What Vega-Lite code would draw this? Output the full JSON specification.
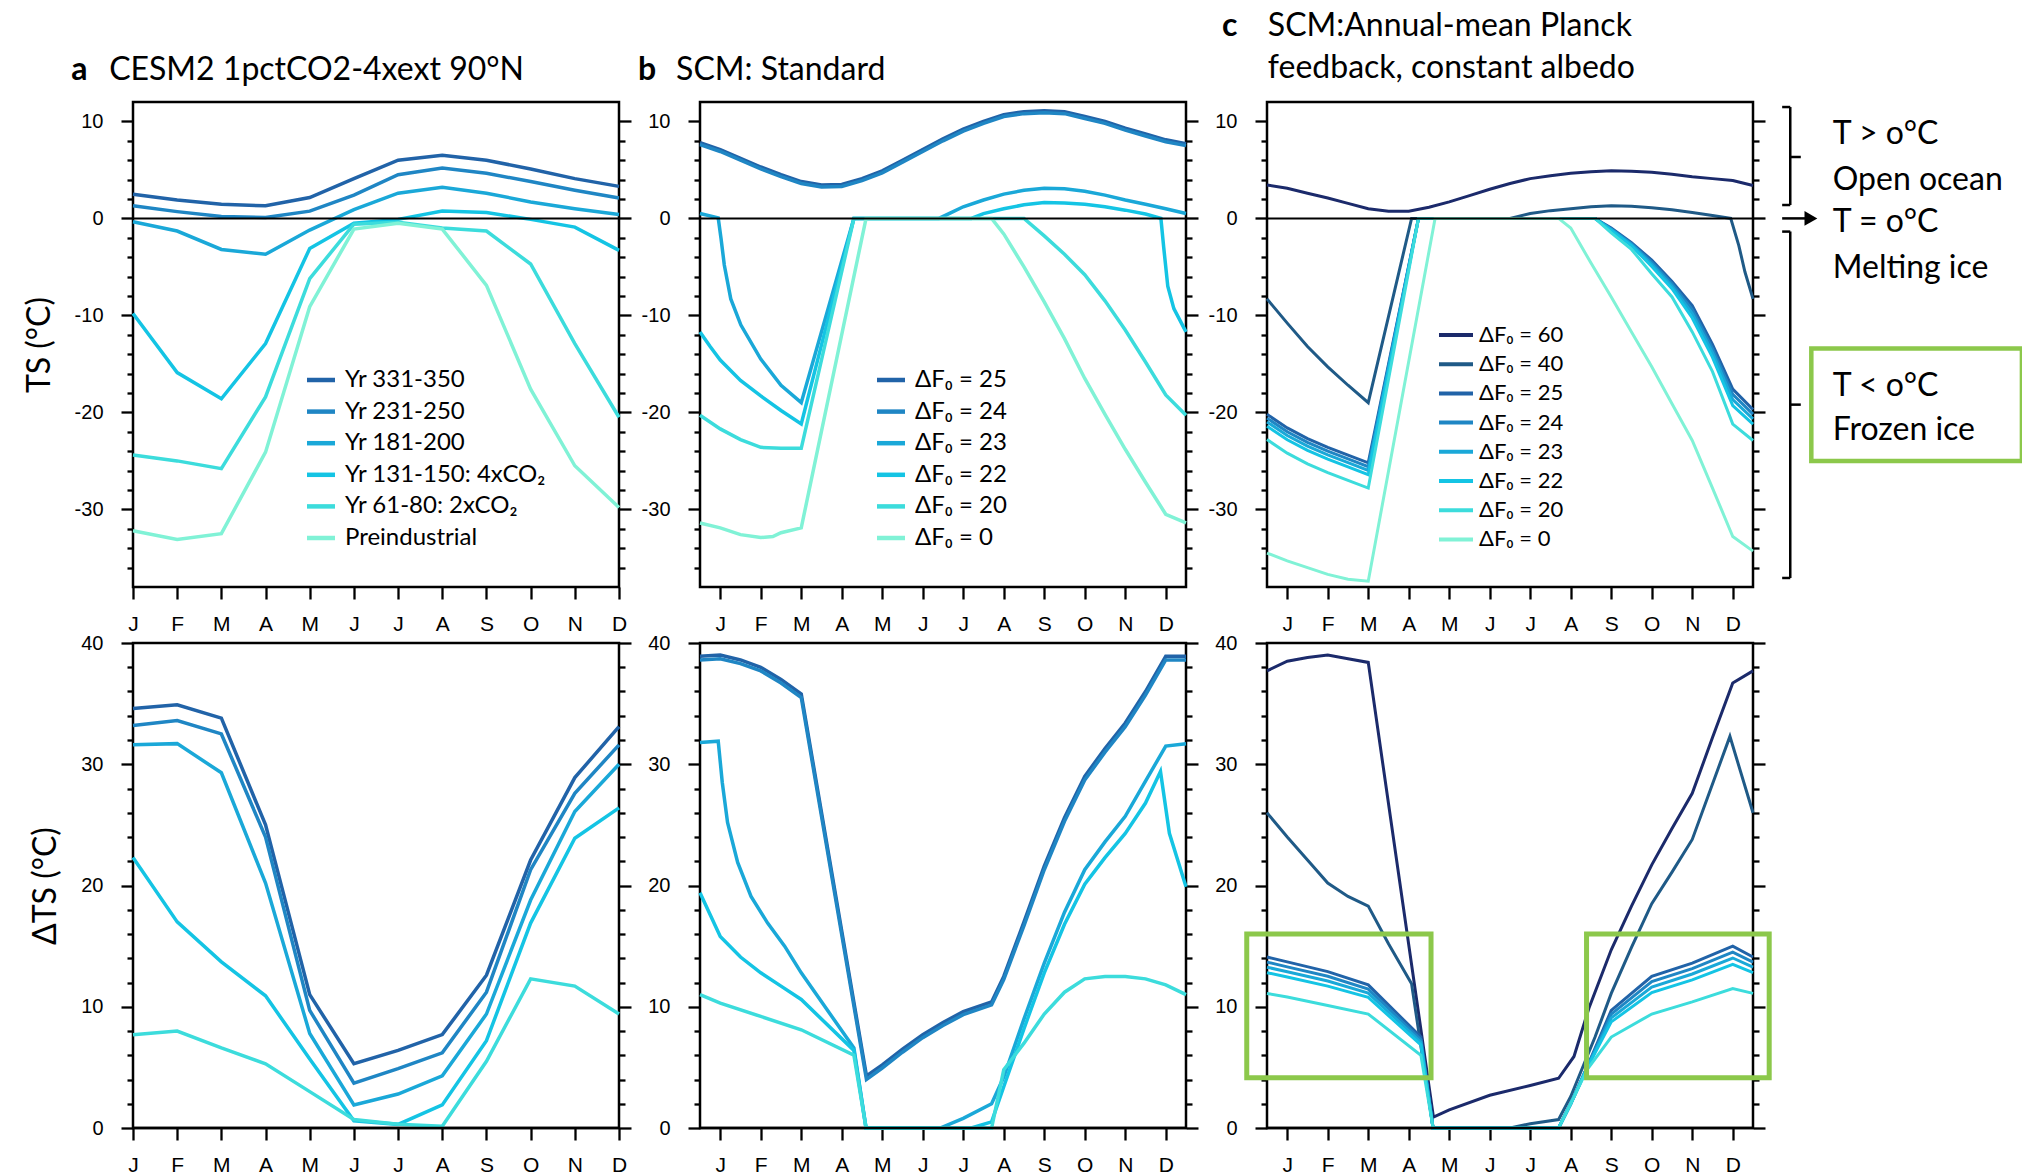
{
"$schema":"https://vega.github.io/schema/vega-lite/v6.json",
"background":"white",
"padding":{"left":21,"top":9,"right":4,"bottom":4},
"config":{
"view":{"stroke":"black","strokeWidth":2.5},
"axis":{"domain":false,"grid":false,"tickColor":"black","tickWidth":2.3,"labelFont":"Liberation Sans","labelFontSize":20,"labelColor":"black","titleFont":"Lato","titleFontSize":32,"titleFontWeight":"normal","titleColor":"black","labelOverlap":false,"labelBound":false,"labelFlush":false},
"legend":{"orient":"none","padding":0,"labelFont":"Lato","labelFontSize":24,"labelColor":"black","labelLimit":0,"symbolType":"M-2,0L2,0","symbolSize":196,"symbolStrokeWidth":4.5,"labelOffset":12,"rowPadding":7.6,"title":null}
},
"resolve":{"scale":{"color":"independent"},"legend":{"color":"independent"}},
"datasets":{
"aTop":[
{"s":"Yr 331-350","m":1,"v":2.5},{"s":"Yr 331-350","m":2,"v":1.9},{"s":"Yr 331-350","m":3,"v":1.45},{"s":"Yr 331-350","m":4,"v":1.3},{"s":"Yr 331-350","m":5,"v":2.15},{"s":"Yr 331-350","m":6,"v":4.1},{"s":"Yr 331-350","m":7,"v":6.0},{"s":"Yr 331-350","m":8,"v":6.5},{"s":"Yr 331-350","m":9,"v":6.0},{"s":"Yr 331-350","m":10,"v":5.1},{"s":"Yr 331-350","m":11,"v":4.1},{"s":"Yr 331-350","m":12,"v":3.3},
{"s":"Yr 231-250","m":1,"v":1.3},{"s":"Yr 231-250","m":2,"v":0.7},{"s":"Yr 231-250","m":3,"v":0.2},{"s":"Yr 231-250","m":4,"v":0.1},{"s":"Yr 231-250","m":5,"v":0.75},{"s":"Yr 231-250","m":6,"v":2.4},{"s":"Yr 231-250","m":7,"v":4.5},{"s":"Yr 231-250","m":8,"v":5.2},{"s":"Yr 231-250","m":9,"v":4.65},{"s":"Yr 231-250","m":10,"v":3.8},{"s":"Yr 231-250","m":11,"v":2.9},{"s":"Yr 231-250","m":12,"v":2.1},
{"s":"Yr 181-200","m":1,"v":-0.35},{"s":"Yr 181-200","m":2,"v":-1.3},{"s":"Yr 181-200","m":3,"v":-3.2},{"s":"Yr 181-200","m":4,"v":-3.7},{"s":"Yr 181-200","m":5,"v":-1.2},{"s":"Yr 181-200","m":6,"v":0.9},{"s":"Yr 181-200","m":7,"v":2.6},{"s":"Yr 181-200","m":8,"v":3.2},{"s":"Yr 181-200","m":9,"v":2.6},{"s":"Yr 181-200","m":10,"v":1.7},{"s":"Yr 181-200","m":11,"v":1.0},{"s":"Yr 181-200","m":12,"v":0.4},
{"s":"Yr 131-150: 4xCO₂","m":1,"v":-9.8},{"s":"Yr 131-150: 4xCO₂","m":2,"v":-15.9},{"s":"Yr 131-150: 4xCO₂","m":3,"v":-18.6},{"s":"Yr 131-150: 4xCO₂","m":4,"v":-12.9},{"s":"Yr 131-150: 4xCO₂","m":5,"v":-3.1},{"s":"Yr 131-150: 4xCO₂","m":6,"v":-0.5},{"s":"Yr 131-150: 4xCO₂","m":7,"v":-0.1},{"s":"Yr 131-150: 4xCO₂","m":8,"v":0.75},{"s":"Yr 131-150: 4xCO₂","m":9,"v":0.6},{"s":"Yr 131-150: 4xCO₂","m":10,"v":-0.1},{"s":"Yr 131-150: 4xCO₂","m":11,"v":-0.9},{"s":"Yr 131-150: 4xCO₂","m":12,"v":-3.3},
{"s":"Yr 61-80: 2xCO₂","m":1,"v":-24.4},{"s":"Yr 61-80: 2xCO₂","m":2,"v":-25.0},{"s":"Yr 61-80: 2xCO₂","m":3,"v":-25.8},{"s":"Yr 61-80: 2xCO₂","m":4,"v":-18.4},{"s":"Yr 61-80: 2xCO₂","m":5,"v":-6.2},{"s":"Yr 61-80: 2xCO₂","m":6,"v":-0.6},{"s":"Yr 61-80: 2xCO₂","m":7,"v":-0.4},{"s":"Yr 61-80: 2xCO₂","m":8,"v":-1.0},{"s":"Yr 61-80: 2xCO₂","m":9,"v":-1.3},{"s":"Yr 61-80: 2xCO₂","m":10,"v":-4.7},{"s":"Yr 61-80: 2xCO₂","m":11,"v":-12.9},{"s":"Yr 61-80: 2xCO₂","m":12,"v":-20.5},
{"s":"Preindustrial","m":1,"v":-32.2},{"s":"Preindustrial","m":2,"v":-33.1},{"s":"Preindustrial","m":3,"v":-32.5},{"s":"Preindustrial","m":4,"v":-24.1},{"s":"Preindustrial","m":5,"v":-9.1},{"s":"Preindustrial","m":6,"v":-1.1},{"s":"Preindustrial","m":7,"v":-0.5},{"s":"Preindustrial","m":8,"v":-1.1},{"s":"Preindustrial","m":9,"v":-6.9},{"s":"Preindustrial","m":10,"v":-17.6},{"s":"Preindustrial","m":11,"v":-25.5},{"s":"Preindustrial","m":12,"v":-29.8}
],
"aBot":[
{"s":"Yr 331-350","m":1,"v":34.6},{"s":"Yr 331-350","m":2,"v":34.9},{"s":"Yr 331-350","m":3,"v":33.8},{"s":"Yr 331-350","m":4,"v":25.0},{"s":"Yr 331-350","m":5,"v":11.0},{"s":"Yr 331-350","m":6,"v":5.3},{"s":"Yr 331-350","m":7,"v":6.4},{"s":"Yr 331-350","m":8,"v":7.7},{"s":"Yr 331-350","m":9,"v":12.6},{"s":"Yr 331-350","m":10,"v":22.1},{"s":"Yr 331-350","m":11,"v":28.9},{"s":"Yr 331-350","m":12,"v":33.1},
{"s":"Yr 231-250","m":1,"v":33.2},{"s":"Yr 231-250","m":2,"v":33.6},{"s":"Yr 231-250","m":3,"v":32.5},{"s":"Yr 231-250","m":4,"v":24.0},{"s":"Yr 231-250","m":5,"v":9.7},{"s":"Yr 231-250","m":6,"v":3.7},{"s":"Yr 231-250","m":7,"v":4.9},{"s":"Yr 231-250","m":8,"v":6.2},{"s":"Yr 231-250","m":9,"v":11.2},{"s":"Yr 231-250","m":10,"v":21.3},{"s":"Yr 231-250","m":11,"v":27.6},{"s":"Yr 231-250","m":12,"v":31.6},
{"s":"Yr 181-200","m":1,"v":31.6},{"s":"Yr 181-200","m":2,"v":31.7},{"s":"Yr 181-200","m":3,"v":29.3},{"s":"Yr 181-200","m":4,"v":20.2},{"s":"Yr 181-200","m":5,"v":7.8},{"s":"Yr 181-200","m":6,"v":1.9},{"s":"Yr 181-200","m":7,"v":2.8},{"s":"Yr 181-200","m":8,"v":4.3},{"s":"Yr 181-200","m":9,"v":9.4},{"s":"Yr 181-200","m":10,"v":18.8},{"s":"Yr 181-200","m":11,"v":26.1},{"s":"Yr 181-200","m":12,"v":30.0},
{"s":"Yr 131-150: 4xCO₂","m":1,"v":22.3},{"s":"Yr 131-150: 4xCO₂","m":2,"v":17.0},{"s":"Yr 131-150: 4xCO₂","m":3,"v":13.7},{"s":"Yr 131-150: 4xCO₂","m":4,"v":10.9},{"s":"Yr 131-150: 4xCO₂","m":5,"v":5.7},{"s":"Yr 131-150: 4xCO₂","m":6,"v":0.6},{"s":"Yr 131-150: 4xCO₂","m":7,"v":0.3},{"s":"Yr 131-150: 4xCO₂","m":8,"v":1.9},{"s":"Yr 131-150: 4xCO₂","m":9,"v":7.2},{"s":"Yr 131-150: 4xCO₂","m":10,"v":16.9},{"s":"Yr 131-150: 4xCO₂","m":11,"v":23.9},{"s":"Yr 131-150: 4xCO₂","m":12,"v":26.4},
{"s":"Yr 61-80: 2xCO₂","m":1,"v":7.7},{"s":"Yr 61-80: 2xCO₂","m":2,"v":8.0},{"s":"Yr 61-80: 2xCO₂","m":3,"v":6.6},{"s":"Yr 61-80: 2xCO₂","m":4,"v":5.3},{"s":"Yr 61-80: 2xCO₂","m":5,"v":3.0},{"s":"Yr 61-80: 2xCO₂","m":6,"v":0.7},{"s":"Yr 61-80: 2xCO₂","m":7,"v":0.3},{"s":"Yr 61-80: 2xCO₂","m":8,"v":0.15},{"s":"Yr 61-80: 2xCO₂","m":9,"v":5.5},{"s":"Yr 61-80: 2xCO₂","m":10,"v":12.3},{"s":"Yr 61-80: 2xCO₂","m":11,"v":11.7},{"s":"Yr 61-80: 2xCO₂","m":12,"v":9.4}
],
"bTop":[
{"f":25,"m":0.5,"v":7.8},{"f":25,"m":1,"v":7.1},{"f":25,"m":1.5,"v":6.2},{"f":25,"m":2,"v":5.3},{"f":25,"m":2.5,"v":4.5},{"f":25,"m":3,"v":3.8},{"f":25,"m":3.5,"v":3.45},{"f":25,"m":4,"v":3.5},{"f":25,"m":4.5,"v":4.1},{"f":25,"m":5,"v":4.9},{"f":25,"m":5.5,"v":6.0},{"f":25,"m":6,"v":7.1},{"f":25,"m":6.5,"v":8.2},{"f":25,"m":7,"v":9.2},{"f":25,"m":7.5,"v":10.0},{"f":25,"m":8,"v":10.7},{"f":25,"m":8.5,"v":11.0},{"f":25,"m":9,"v":11.1},{"f":25,"m":9.5,"v":11.0},{"f":25,"m":10,"v":10.5},{"f":25,"m":10.5,"v":10.0},{"f":25,"m":11,"v":9.3},{"f":25,"m":11.5,"v":8.7},{"f":25,"m":12,"v":8.1},{"f":25,"m":12.5,"v":7.7},
{"f":24,"m":0.5,"v":7.6},{"f":24,"m":1,"v":6.9},{"f":24,"m":1.5,"v":6.0},{"f":24,"m":2,"v":5.1},{"f":24,"m":2.5,"v":4.3},{"f":24,"m":3,"v":3.6},{"f":24,"m":3.5,"v":3.25},{"f":24,"m":4,"v":3.3},{"f":24,"m":4.5,"v":3.9},{"f":24,"m":5,"v":4.7},{"f":24,"m":5.5,"v":5.8},{"f":24,"m":6,"v":6.9},{"f":24,"m":6.5,"v":8.0},{"f":24,"m":7,"v":9.0},{"f":24,"m":7.5,"v":9.8},{"f":24,"m":8,"v":10.5},{"f":24,"m":8.5,"v":10.8},{"f":24,"m":9,"v":10.9},{"f":24,"m":9.5,"v":10.8},{"f":24,"m":10,"v":10.3},{"f":24,"m":10.5,"v":9.8},{"f":24,"m":11,"v":9.1},{"f":24,"m":11.5,"v":8.5},{"f":24,"m":12,"v":7.9},{"f":24,"m":12.5,"v":7.5},
{"f":23,"m":0.5,"v":0.5},{"f":23,"m":0.95,"v":0.05},{"f":23,"m":1.02,"v":-2.1},{"f":23,"m":1.1,"v":-4.8},{"f":23,"m":1.26,"v":-8.3},{"f":23,"m":1.51,"v":-11.0},{"f":23,"m":2,"v":-14.5},{"f":23,"m":2.5,"v":-17.2},{"f":23,"m":3,"v":-19.0},{"f":23,"m":4.3,"v":0},{"f":23,"m":6.4,"v":0},{"f":23,"m":6.7,"v":0.6},{"f":23,"m":7,"v":1.2},{"f":23,"m":7.5,"v":1.9},{"f":23,"m":8,"v":2.5},{"f":23,"m":8.5,"v":2.9},{"f":23,"m":9,"v":3.1},{"f":23,"m":9.5,"v":3.05},{"f":23,"m":10,"v":2.8},{"f":23,"m":10.5,"v":2.4},{"f":23,"m":11,"v":1.9},{"f":23,"m":11.5,"v":1.45},{"f":23,"m":12,"v":1.0},{"f":23,"m":12.5,"v":0.5},
{"f":22,"m":0.5,"v":-11.7},{"f":22,"m":0.75,"v":-13.2},{"f":22,"m":1,"v":-14.6},{"f":22,"m":1.5,"v":-16.7},{"f":22,"m":2,"v":-18.3},{"f":22,"m":2.5,"v":-19.8},{"f":22,"m":3,"v":-21.2},{"f":22,"m":4.3,"v":0},{"f":22,"m":7.2,"v":0},{"f":22,"m":7.5,"v":0.5},{"f":22,"m":8,"v":1.0},{"f":22,"m":8.5,"v":1.4},{"f":22,"m":9,"v":1.65},{"f":22,"m":9.5,"v":1.6},{"f":22,"m":10,"v":1.45},{"f":22,"m":10.5,"v":1.2},{"f":22,"m":11,"v":0.85},{"f":22,"m":11.5,"v":0.45},{"f":22,"m":11.88,"v":0},{"f":22,"m":11.95,"v":-3.0},{"f":22,"m":12.05,"v":-7.0},{"f":22,"m":12.2,"v":-9.3},{"f":22,"m":12.5,"v":-11.7},
{"f":20,"m":0.5,"v":-20.3},{"f":20,"m":1,"v":-21.7},{"f":20,"m":1.5,"v":-22.8},{"f":20,"m":2,"v":-23.6},{"f":20,"m":2.5,"v":-23.7},{"f":20,"m":3,"v":-23.7},{"f":20,"m":4.3,"v":0},{"f":20,"m":8.5,"v":0},{"f":20,"m":9,"v":-1.8},{"f":20,"m":9.5,"v":-3.7},{"f":20,"m":10,"v":-5.8},{"f":20,"m":10.5,"v":-8.5},{"f":20,"m":11,"v":-11.5},{"f":20,"m":11.5,"v":-14.8},{"f":20,"m":12,"v":-18.2},{"f":20,"m":12.5,"v":-20.3},
{"f":0,"m":0.5,"v":-31.4},{"f":0,"m":1,"v":-31.9},{"f":0,"m":1.5,"v":-32.6},{"f":0,"m":2,"v":-32.9},{"f":0,"m":2.3,"v":-32.8},{"f":0,"m":2.5,"v":-32.4},{"f":0,"m":3,"v":-31.9},{"f":0,"m":4.6,"v":0},{"f":0,"m":7.7,"v":0},{"f":0,"m":8,"v":-1.6},{"f":0,"m":8.5,"v":-5.0},{"f":0,"m":9,"v":-8.6},{"f":0,"m":9.5,"v":-12.4},{"f":0,"m":10,"v":-16.5},{"f":0,"m":10.5,"v":-20.2},{"f":0,"m":11,"v":-23.8},{"f":0,"m":11.5,"v":-27.2},{"f":0,"m":12,"v":-30.5},{"f":0,"m":12.5,"v":-31.4}
],
"bBot":[
{"f":25,"m":0.5,"v":38.9},{"f":25,"m":1,"v":39.0},{"f":25,"m":1.5,"v":38.6},{"f":25,"m":2,"v":38.0},{"f":25,"m":2.5,"v":37.0},{"f":25,"m":3,"v":35.8},{"f":25,"m":4.61,"v":4.3},{"f":25,"m":5,"v":5.2},{"f":25,"m":5.5,"v":6.5},{"f":25,"m":6,"v":7.7},{"f":25,"m":6.5,"v":8.7},{"f":25,"m":7,"v":9.6},{"f":25,"m":7.7,"v":10.4},{"f":25,"m":8,"v":12.5},{"f":25,"m":8.5,"v":17.0},{"f":25,"m":9,"v":21.6},{"f":25,"m":9.5,"v":25.6},{"f":25,"m":10,"v":29.0},{"f":25,"m":10.5,"v":31.3},{"f":25,"m":11,"v":33.4},{"f":25,"m":11.5,"v":36.0},{"f":25,"m":12,"v":38.9},{"f":25,"m":12.5,"v":38.9},
{"f":24,"m":0.5,"v":38.6},{"f":24,"m":1,"v":38.7},{"f":24,"m":1.5,"v":38.3},{"f":24,"m":2,"v":37.7},{"f":24,"m":2.5,"v":36.7},{"f":24,"m":3,"v":35.5},{"f":24,"m":4.61,"v":4.0},{"f":24,"m":5,"v":4.95},{"f":24,"m":5.5,"v":6.25},{"f":24,"m":6,"v":7.45},{"f":24,"m":6.5,"v":8.45},{"f":24,"m":7,"v":9.35},{"f":24,"m":7.7,"v":10.15},{"f":24,"m":8,"v":12.25},{"f":24,"m":8.5,"v":16.7},{"f":24,"m":9,"v":21.3},{"f":24,"m":9.5,"v":25.3},{"f":24,"m":10,"v":28.7},{"f":24,"m":10.5,"v":31.0},{"f":24,"m":11,"v":33.1},{"f":24,"m":11.5,"v":35.7},{"f":24,"m":12,"v":38.6},{"f":24,"m":12.5,"v":38.6},
{"f":23,"m":0.5,"v":31.8},{"f":23,"m":0.95,"v":31.9},{"f":23,"m":1.05,"v":28.5},{"f":23,"m":1.18,"v":25.2},{"f":23,"m":1.43,"v":21.9},{"f":23,"m":1.76,"v":19.1},{"f":23,"m":2.17,"v":16.9},{"f":23,"m":2.59,"v":15.0},{"f":23,"m":3,"v":12.8},{"f":23,"m":4.3,"v":6.6},{"f":23,"m":4.6,"v":0},{"f":23,"m":6.43,"v":0},{"f":23,"m":7,"v":0.8},{"f":23,"m":7.7,"v":2.0},{"f":23,"m":8,"v":4.2},{"f":23,"m":8.5,"v":9.0},{"f":23,"m":9,"v":13.6},{"f":23,"m":9.5,"v":17.8},{"f":23,"m":10,"v":21.3},{"f":23,"m":10.5,"v":23.6},{"f":23,"m":11,"v":25.7},{"f":23,"m":11.5,"v":28.6},{"f":23,"m":12,"v":31.5},{"f":23,"m":12.5,"v":31.7},
{"f":22,"m":0.5,"v":19.4},{"f":22,"m":1,"v":15.8},{"f":22,"m":1.5,"v":14.1},{"f":22,"m":2,"v":12.8},{"f":22,"m":2.5,"v":11.7},{"f":22,"m":3,"v":10.6},{"f":22,"m":4.3,"v":6.4},{"f":22,"m":4.6,"v":0},{"f":22,"m":7.2,"v":0},{"f":22,"m":7.7,"v":0.5},{"f":22,"m":8,"v":3.4},{"f":22,"m":8.5,"v":8.2},{"f":22,"m":9,"v":12.8},{"f":22,"m":9.5,"v":16.8},{"f":22,"m":10,"v":20.1},{"f":22,"m":10.5,"v":22.3},{"f":22,"m":11,"v":24.3},{"f":22,"m":11.5,"v":26.8},{"f":22,"m":11.87,"v":29.4},{"f":22,"m":12.09,"v":24.3},{"f":22,"m":12.5,"v":19.9},
{"f":20,"m":0.5,"v":11.0},{"f":20,"m":1,"v":10.3},{"f":20,"m":2,"v":9.2},{"f":20,"m":3,"v":8.1},{"f":20,"m":4.3,"v":6.0},{"f":20,"m":4.6,"v":0},{"f":20,"m":7.7,"v":0},{"f":20,"m":8,"v":4.8},{"f":20,"m":8.5,"v":7.0},{"f":20,"m":9,"v":9.4},{"f":20,"m":9.5,"v":11.2},{"f":20,"m":10,"v":12.3},{"f":20,"m":10.5,"v":12.5},{"f":20,"m":11,"v":12.5},{"f":20,"m":11.5,"v":12.3},{"f":20,"m":12,"v":11.8},{"f":20,"m":12.5,"v":11.0}
],
"cTop":[
{"f":60,"m":0.5,"v":3.45},{"f":60,"m":1,"v":3.1},{"f":60,"m":1.5,"v":2.6},{"f":60,"m":2,"v":2.1},{"f":60,"m":2.5,"v":1.55},{"f":60,"m":3,"v":1.0},{"f":60,"m":3.5,"v":0.75},{"f":60,"m":4,"v":0.75},{"f":60,"m":4.5,"v":1.15},{"f":60,"m":5,"v":1.7},{"f":60,"m":5.5,"v":2.35},{"f":60,"m":6,"v":3.0},{"f":60,"m":6.5,"v":3.6},{"f":60,"m":7,"v":4.1},{"f":60,"m":7.5,"v":4.4},{"f":60,"m":8,"v":4.65},{"f":60,"m":8.5,"v":4.8},{"f":60,"m":9,"v":4.9},{"f":60,"m":9.5,"v":4.85},{"f":60,"m":10,"v":4.75},{"f":60,"m":10.5,"v":4.55},{"f":60,"m":11,"v":4.3},{"f":60,"m":11.5,"v":4.1},{"f":60,"m":12,"v":3.9},{"f":60,"m":12.5,"v":3.4},
{"f":40,"m":0.5,"v":-8.3},{"f":40,"m":1,"v":-10.8},{"f":40,"m":1.5,"v":-13.2},{"f":40,"m":2,"v":-15.3},{"f":40,"m":2.5,"v":-17.2},{"f":40,"m":3,"v":-19.0},{"f":40,"m":4.07,"v":0},{"f":40,"m":6.5,"v":0},{"f":40,"m":7,"v":0.5},{"f":40,"m":7.5,"v":0.8},{"f":40,"m":8,"v":1.0},{"f":40,"m":8.5,"v":1.2},{"f":40,"m":9,"v":1.3},{"f":40,"m":9.5,"v":1.25},{"f":40,"m":10,"v":1.1},{"f":40,"m":10.5,"v":0.9},{"f":40,"m":11,"v":0.6},{"f":40,"m":11.5,"v":0.3},{"f":40,"m":11.95,"v":0},{"f":40,"m":12.15,"v":-2.8},{"f":40,"m":12.3,"v":-5.5},{"f":40,"m":12.5,"v":-8.3},
{"f":25,"m":0.5,"v":-20.2},{"f":25,"m":1,"v":-21.6},{"f":25,"m":1.5,"v":-22.7},{"f":25,"m":2,"v":-23.6},{"f":25,"m":2.5,"v":-24.4},{"f":25,"m":3,"v":-25.2},{"f":25,"m":4.24,"v":0},{"f":25,"m":8.6,"v":0},{"f":25,"m":9,"v":-1.0},{"f":25,"m":9.5,"v":-2.5},{"f":25,"m":10,"v":-4.3},{"f":25,"m":10.5,"v":-6.5},{"f":25,"m":11,"v":-9.0},{"f":25,"m":11.5,"v":-13.0},{"f":25,"m":12,"v":-17.6},{"f":25,"m":12.5,"v":-19.7},
{"f":24,"m":0.5,"v":-20.59},{"f":24,"m":1,"v":-21.99},{"f":24,"m":1.5,"v":-23.09},{"f":24,"m":2,"v":-23.99},{"f":24,"m":2.5,"v":-24.79},{"f":24,"m":3,"v":-25.59},{"f":24,"m":4.24,"v":0},{"f":24,"m":8.6,"v":0},{"f":24,"m":9,"v":-1.08},{"f":24,"m":9.5,"v":-2.61},{"f":24,"m":10,"v":-4.51},{"f":24,"m":10.5,"v":-6.74},{"f":24,"m":11,"v":-9.41},{"f":24,"m":11.5,"v":-13.42},{"f":24,"m":12,"v":-18.14},{"f":24,"m":12.5,"v":-20.18},
{"f":23,"m":0.5,"v":-20.98},{"f":23,"m":1,"v":-22.38},{"f":23,"m":1.5,"v":-23.48},{"f":23,"m":2,"v":-24.38},{"f":23,"m":2.5,"v":-25.18},{"f":23,"m":3,"v":-25.98},{"f":23,"m":4.24,"v":0},{"f":23,"m":8.6,"v":0},{"f":23,"m":9,"v":-1.15},{"f":23,"m":9.5,"v":-2.71},{"f":23,"m":10,"v":-4.72},{"f":23,"m":10.5,"v":-6.98},{"f":23,"m":11,"v":-9.81},{"f":23,"m":11.5,"v":-13.84},{"f":23,"m":12,"v":-18.68},{"f":23,"m":12.5,"v":-20.66},
{"f":22,"m":0.5,"v":-21.42},{"f":22,"m":1,"v":-22.82},{"f":22,"m":1.5,"v":-23.92},{"f":22,"m":2,"v":-24.82},{"f":22,"m":2.5,"v":-25.62},{"f":22,"m":3,"v":-26.42},{"f":22,"m":4.24,"v":0},{"f":22,"m":8.6,"v":0},{"f":22,"m":9,"v":-1.24},{"f":22,"m":9.5,"v":-2.83},{"f":22,"m":10,"v":-4.96},{"f":22,"m":10.5,"v":-7.25},{"f":22,"m":11,"v":-10.27},{"f":22,"m":11.5,"v":-14.32},{"f":22,"m":12,"v":-19.29},{"f":22,"m":12.5,"v":-21.2},
{"f":20,"m":0.5,"v":-22.8},{"f":20,"m":1,"v":-24.2},{"f":20,"m":1.5,"v":-25.3},{"f":20,"m":2,"v":-26.2},{"f":20,"m":2.5,"v":-27.0},{"f":20,"m":3,"v":-27.8},{"f":20,"m":4.24,"v":0},{"f":20,"m":8.6,"v":0},{"f":20,"m":9,"v":-1.5},{"f":20,"m":9.5,"v":-3.2},{"f":20,"m":10,"v":-5.7},{"f":20,"m":10.5,"v":-8.1},{"f":20,"m":11,"v":-11.7},{"f":20,"m":11.5,"v":-15.8},{"f":20,"m":12,"v":-21.2},{"f":20,"m":12.5,"v":-22.9},
{"f":0,"m":0.5,"v":-34.5},{"f":0,"m":1,"v":-35.3},{"f":0,"m":1.5,"v":-36.0},{"f":0,"m":2,"v":-36.7},{"f":0,"m":2.5,"v":-37.2},{"f":0,"m":3,"v":-37.4},{"f":0,"m":4.65,"v":0},{"f":0,"m":7.7,"v":0},{"f":0,"m":8,"v":-1.0},{"f":0,"m":8.5,"v":-4.6},{"f":0,"m":9,"v":-8.1},{"f":0,"m":9.5,"v":-11.7},{"f":0,"m":10,"v":-15.3},{"f":0,"m":10.5,"v":-19.1},{"f":0,"m":11,"v":-22.9},{"f":0,"m":11.5,"v":-27.8},{"f":0,"m":12,"v":-32.8},{"f":0,"m":12.5,"v":-34.3}
],
"cBot":[
{"f":60,"m":0.5,"v":37.7},{"f":60,"m":1,"v":38.5},{"f":60,"m":1.5,"v":38.8},{"f":60,"m":2,"v":39.0},{"f":60,"m":2.5,"v":38.7},{"f":60,"m":3,"v":38.4},{"f":60,"m":4.61,"v":0.9},{"f":60,"m":5,"v":1.5},{"f":60,"m":6,"v":2.7},{"f":60,"m":7,"v":3.5},{"f":60,"m":7.7,"v":4.1},{"f":60,"m":8.08,"v":5.9},{"f":60,"m":8.45,"v":9.9},{"f":60,"m":9,"v":14.7},{"f":60,"m":9.5,"v":18.3},{"f":60,"m":10,"v":21.7},{"f":60,"m":10.5,"v":24.7},{"f":60,"m":11,"v":27.6},{"f":60,"m":11.5,"v":32.2},{"f":60,"m":12,"v":36.7},{"f":60,"m":12.5,"v":37.7},
{"f":40,"m":0.5,"v":26.0},{"f":40,"m":1,"v":24.0},{"f":40,"m":1.5,"v":22.1},{"f":40,"m":2,"v":20.2},{"f":40,"m":2.5,"v":19.1},{"f":40,"m":3,"v":18.3},{"f":40,"m":3.5,"v":15.2},{"f":40,"m":4.07,"v":11.9},{"f":40,"m":4.6,"v":0},{"f":40,"m":6.5,"v":0},{"f":40,"m":7,"v":0.35},{"f":40,"m":7.7,"v":0.7},{"f":40,"m":8,"v":2.6},{"f":40,"m":8.6,"v":7.5},{"f":40,"m":9,"v":11.1},{"f":40,"m":9.5,"v":14.9},{"f":40,"m":10,"v":18.5},{"f":40,"m":10.5,"v":21.1},{"f":40,"m":11,"v":23.8},{"f":40,"m":11.93,"v":32.3},{"f":40,"m":12.5,"v":26.0},
{"f":25,"m":0.5,"v":14.1},{"f":25,"m":1,"v":13.7},{"f":25,"m":2,"v":12.9},{"f":25,"m":3,"v":11.8},{"f":25,"m":4.3,"v":7.5},{"f":25,"m":4.6,"v":0},{"f":25,"m":7.7,"v":0},{"f":25,"m":8,"v":2.0},{"f":25,"m":8.4,"v":5.0},{"f":25,"m":9,"v":9.7},{"f":25,"m":10,"v":12.5},{"f":25,"m":11,"v":13.6},{"f":25,"m":12,"v":15.0},{"f":25,"m":12.5,"v":14.1},
{"f":24,"m":0.5,"v":13.68},{"f":24,"m":1,"v":13.29},{"f":24,"m":2,"v":12.51},{"f":24,"m":3,"v":11.46},{"f":24,"m":4.3,"v":7.29},{"f":24,"m":4.6,"v":0},{"f":24,"m":7.7,"v":0},{"f":24,"m":8,"v":2.0},{"f":24,"m":8.4,"v":4.97},{"f":24,"m":9,"v":9.39},{"f":24,"m":10,"v":12.07},{"f":24,"m":11,"v":13.15},{"f":24,"m":12,"v":14.51},{"f":24,"m":12.5,"v":13.68},
{"f":23,"m":0.5,"v":13.26},{"f":23,"m":1,"v":12.89},{"f":23,"m":2,"v":12.12},{"f":23,"m":3,"v":11.13},{"f":23,"m":4.3,"v":7.08},{"f":23,"m":4.6,"v":0},{"f":23,"m":7.7,"v":0},{"f":23,"m":8,"v":2.0},{"f":23,"m":8.4,"v":4.94},{"f":23,"m":9,"v":9.08},{"f":23,"m":10,"v":11.63},{"f":23,"m":11,"v":12.7},{"f":23,"m":12,"v":14.02},{"f":23,"m":12.5,"v":13.26},
{"f":22,"m":0.5,"v":12.81},{"f":22,"m":1,"v":12.45},{"f":22,"m":2,"v":11.7},{"f":22,"m":3,"v":10.77},{"f":22,"m":4.3,"v":6.86},{"f":22,"m":4.6,"v":0},{"f":22,"m":7.7,"v":0},{"f":22,"m":8,"v":2.0},{"f":22,"m":8.4,"v":4.91},{"f":22,"m":9,"v":8.75},{"f":22,"m":10,"v":11.17},{"f":22,"m":11,"v":12.22},{"f":22,"m":12,"v":13.5},{"f":22,"m":12.5,"v":12.81},
{"f":20,"m":0.5,"v":11.1},{"f":20,"m":1,"v":10.8},{"f":20,"m":2,"v":10.1},{"f":20,"m":3,"v":9.4},{"f":20,"m":4.3,"v":6.0},{"f":20,"m":4.6,"v":0},{"f":20,"m":7.7,"v":0},{"f":20,"m":8,"v":2.0},{"f":20,"m":8.4,"v":4.8},{"f":20,"m":9,"v":7.5},{"f":20,"m":10,"v":9.4},{"f":20,"m":11,"v":10.4},{"f":20,"m":12,"v":11.5},{"f":20,"m":12.5,"v":11.1}
]
},
"concat":[
{"width":486,"height":485,"resolve":{"axis":{"y":"independent"}},
"layer":[
{"data":{"name":"aTop"},"mark":{"type":"line","strokeWidth":3.5},
"encoding":{
"x":{"field":"m","type":"quantitative","scale":{"domain":[1,12],"nice":false,"zero":false},"axis":{"orient":"bottom","values":[1,2,3,4,5,6,7,8,9,10,11,12],"labelExpr":"['J','F','M','A','M','J','J','A','S','O','N','D'][datum.value-1]","tickSize":12,"labelPadding":14,"labelFontSize":21,"title":null}},
"y":{"field":"v","type":"quantitative","scale":{"domain":[-38,12],"nice":false,"zero":false},"axis":{"orient":"left","values":[-36,-34,-32,-30,-28,-26,-24,-22,-20,-18,-16,-14,-12,-10,-8,-6,-4,-2,0,2,4,6,8,10],"tickSize":{"condition":{"test":"datum.value % 10 === 0","value":12},"value":6},"labelExpr":"datum.value % 10 === 0 ? '' + datum.value : ''","labelPadding":18,"title":"TS (°C)","titlePadding":18}},
"color":{"field":"s","type":"nominal","scale":{"domain":["Yr 331-350","Yr 231-250","Yr 181-200","Yr 131-150: 4xCO₂","Yr 61-80: 2xCO₂","Preindustrial"],"range":["#2163a8","#1f86c4","#1aa8d8","#14c4e4","#3cdcdc","#80f2d6"]},"legend":{"legendX":176,"legendY":266}}
}},
{"data":{"values":[{}]},"mark":{"type":"rule","color":"black","strokeWidth":2},"encoding":{"y":{"datum":0,"axis":{"orient":"right","values":[-36,-34,-32,-30,-28,-26,-24,-22,-20,-18,-16,-14,-12,-10,-8,-6,-4,-2,0,2,4,6,8,10],"tickSize":{"condition":{"test":"datum.value % 10 === 0","value":12},"value":6},"labels":false,"title":null}}}},
{"data":{"values":[{}]},"mark":{"type":"text","font":"Lato","fontWeight":"bold","fontSize":32,"align":"left","baseline":"alphabetic"},"encoding":{"x":{"datum":-0.4},"y":{"datum":14.3,"axis":null},"text":{"value":"a"}}},
{"data":{"values":[{}]},"mark":{"type":"text","font":"Lato","fontSize":32,"align":"left","baseline":"alphabetic"},"encoding":{"x":{"datum":0.46},"y":{"datum":14.3,"axis":null},"text":{"value":"CESM2 1pctCO2-4xext 90°N"}}}
]},
{"width":486,"height":485,"resolve":{"axis":{"y":"independent"}},
"layer":[
{"data":{"name":"bTop"},"mark":{"type":"line","strokeWidth":3.5},
"encoding":{
"x":{"field":"m","type":"quantitative","scale":{"domain":[0.5,12.5],"nice":false,"zero":false},"axis":{"orient":"bottom","values":[1,2,3,4,5,6,7,8,9,10,11,12],"labelExpr":"['J','F','M','A','M','J','J','A','S','O','N','D'][datum.value-1]","tickSize":12,"labelPadding":14,"labelFontSize":21,"title":null}},
"y":{"field":"v","type":"quantitative","scale":{"domain":[-38,12],"nice":false,"zero":false},"axis":{"orient":"left","values":[-36,-34,-32,-30,-28,-26,-24,-22,-20,-18,-16,-14,-12,-10,-8,-6,-4,-2,0,2,4,6,8,10],"tickSize":{"condition":{"test":"datum.value % 10 === 0","value":12},"value":6},"labelExpr":"datum.value % 10 === 0 ? '' + datum.value : ''","labelPadding":18,"title":null}},
"color":{"field":"f","type":"nominal","scale":{"domain":[25,24,23,22,20,0],"range":["#2163a8","#1f86c4","#1aa8d8","#14c4e4","#3cdcdc","#80f2d6"]},"legend":{"legendX":179,"legendY":266,"labelExpr":"'ΔF₀ = ' + datum.label"}}
}},
{"data":{"values":[{}]},"mark":{"type":"rule","color":"black","strokeWidth":2},"encoding":{"y":{"datum":0,"axis":{"orient":"right","values":[-36,-34,-32,-30,-28,-26,-24,-22,-20,-18,-16,-14,-12,-10,-8,-6,-4,-2,0,2,4,6,8,10],"tickSize":{"condition":{"test":"datum.value % 10 === 0","value":12},"value":6},"labels":false,"title":null}}}},
{"data":{"values":[{}]},"mark":{"type":"text","font":"Lato","fontWeight":"bold","fontSize":32,"align":"left","baseline":"alphabetic"},"encoding":{"x":{"datum":-1.03},"y":{"datum":14.3,"axis":null},"text":{"value":"b"}}},
{"data":{"values":[{}]},"mark":{"type":"text","font":"Lato","fontSize":32,"align":"left","baseline":"alphabetic"},"encoding":{"x":{"datum":-0.09},"y":{"datum":14.3,"axis":null},"text":{"value":"SCM: Standard"}}}
]},
{"width":486,"height":485,"resolve":{"axis":{"y":"independent"}},
"layer":[
{"data":{"name":"cTop"},"mark":{"type":"line","strokeWidth":3},
"encoding":{
"x":{"field":"m","type":"quantitative","scale":{"domain":[0.5,12.5],"nice":false,"zero":false},"axis":{"orient":"bottom","values":[1,2,3,4,5,6,7,8,9,10,11,12],"labelExpr":"['J','F','M','A','M','J','J','A','S','O','N','D'][datum.value-1]","tickSize":12,"labelPadding":14,"labelFontSize":21,"title":null}},
"y":{"field":"v","type":"quantitative","scale":{"domain":[-38,12],"nice":false,"zero":false},"axis":{"orient":"left","values":[-36,-34,-32,-30,-28,-26,-24,-22,-20,-18,-16,-14,-12,-10,-8,-6,-4,-2,0,2,4,6,8,10],"tickSize":{"condition":{"test":"datum.value % 10 === 0","value":12},"value":6},"labelExpr":"datum.value % 10 === 0 ? '' + datum.value : ''","labelPadding":18,"title":null}},
"color":{"field":"f","type":"nominal","scale":{"domain":[60,40,25,24,23,22,20,0],"range":["#1b2a6b","#1f5a87","#2163a8","#1f86c4","#1aa8d8","#14c4e4","#3cdcdc","#80f2d6"]},"legend":{"legendX":178,"legendY":222,"labelExpr":"'ΔF₀ = ' + datum.label","labelFontSize":22,"symbolSize":289,"symbolStrokeWidth":4,"rowPadding":7.2}}
}},
{"data":{"values":[{}]},"mark":{"type":"rule","color":"black","strokeWidth":2},"encoding":{"y":{"datum":0,"axis":{"orient":"right","values":[-36,-34,-32,-30,-28,-26,-24,-22,-20,-18,-16,-14,-12,-10,-8,-6,-4,-2,0,2,4,6,8,10],"tickSize":{"condition":{"test":"datum.value % 10 === 0","value":12},"value":6},"labels":false,"title":null}}}},
{"data":{"values":[{}]},"mark":{"type":"text","font":"Lato","fontWeight":"bold","fontSize":32,"align":"left","baseline":"alphabetic"},"encoding":{"x":{"datum":-0.61},"y":{"datum":18.76,"axis":null},"text":{"value":"c"}}},
{"data":{"values":[{}]},"mark":{"type":"text","font":"Lato","fontSize":32,"align":"left","baseline":"alphabetic","lineHeight":42},"encoding":{"x":{"datum":0.52},"y":{"datum":18.76,"axis":null},"text":{"value":["SCM:Annual-mean Planck","feedback, constant albedo"]}}},
{"data":{"values":[{}]},"mark":{"type":"rule","color":"black","strokeWidth":2.5},"encoding":{"x":{"datum":13.42},"y":{"datum":11.48,"axis":null},"y2":{"datum":1.38}}},
{"data":{"values":[{}]},"mark":{"type":"rule","color":"black","strokeWidth":2.5},"encoding":{"x":{"datum":13.22},"x2":{"datum":13.42},"y":{"datum":11.48,"axis":null}}},
{"data":{"values":[{}]},"mark":{"type":"rule","color":"black","strokeWidth":2.5},"encoding":{"x":{"datum":13.22},"x2":{"datum":13.42},"y":{"datum":1.38,"axis":null}}},
{"data":{"values":[{}]},"mark":{"type":"rule","color":"black","strokeWidth":2.5},"encoding":{"x":{"datum":13.42},"x2":{"datum":13.68},"y":{"datum":6.33,"axis":null}}},
{"data":{"values":[{}]},"mark":{"type":"rule","color":"black","strokeWidth":2.5},"encoding":{"x":{"datum":13.42},"y":{"datum":-1.36,"axis":null},"y2":{"datum":-37.07}}},
{"data":{"values":[{}]},"mark":{"type":"rule","color":"black","strokeWidth":2.5},"encoding":{"x":{"datum":13.22},"x2":{"datum":13.42},"y":{"datum":-1.36,"axis":null}}},
{"data":{"values":[{}]},"mark":{"type":"rule","color":"black","strokeWidth":2.5},"encoding":{"x":{"datum":13.22},"x2":{"datum":13.42},"y":{"datum":-37.07,"axis":null}}},
{"data":{"values":[{}]},"mark":{"type":"rule","color":"black","strokeWidth":2.5},"encoding":{"x":{"datum":13.42},"x2":{"datum":13.68},"y":{"datum":-19.2,"axis":null}}},
{"data":{"values":[{}]},"mark":{"type":"rule","color":"black","strokeWidth":2.5},"encoding":{"x":{"datum":13.22},"x2":{"datum":13.85},"y":{"datum":0,"axis":null}}},
{"data":{"values":[{}]},"mark":{"type":"point","shape":"triangle-right","filled":true,"color":"black","opacity":1,"size":220},"encoding":{"x":{"datum":13.93},"y":{"datum":0,"axis":null}}},
{"data":{"values":[{}]},"mark":{"type":"text","font":"Lato","fontSize":32,"align":"left","baseline":"alphabetic","lineHeight":46},"encoding":{"x":{"datum":14.47},"y":{"datum":7.71,"axis":null},"text":{"value":["T > o°C","Open ocean"]}}},
{"data":{"values":[{}]},"mark":{"type":"text","font":"Lato","fontSize":32,"align":"left","baseline":"alphabetic","lineHeight":46},"encoding":{"x":{"datum":14.47},"y":{"datum":-1.36,"axis":null},"text":{"value":["T = o°C","Melting ice"]}}},
{"data":{"values":[{}]},"mark":{"type":"rect","filled":false,"color":"#8cc84b","strokeWidth":4.5},"encoding":{"x":{"datum":13.94},"x2":{"datum":19.14},"y":{"datum":-13.4,"axis":null},"y2":{"datum":-25.0}}},
{"data":{"values":[{}]},"mark":{"type":"text","font":"Lato","fontSize":32,"align":"left","baseline":"alphabetic","lineHeight":44},"encoding":{"x":{"datum":14.47},"y":{"datum":-18.3,"axis":null},"text":{"value":["T < o°C","Frozen ice"]}}}
]},
{"width":486,"height":485,"resolve":{"axis":{"y":"independent"}},
"layer":[
{"data":{"name":"aBot"},"mark":{"type":"line","strokeWidth":3.5},
"encoding":{
"x":{"field":"m","type":"quantitative","scale":{"domain":[1,12],"nice":false,"zero":false},"axis":{"orient":"bottom","values":[1,2,3,4,5,6,7,8,9,10,11,12],"labelExpr":"['J','F','M','A','M','J','J','A','S','O','N','D'][datum.value-1]","tickSize":12,"labelPadding":14,"labelFontSize":21,"title":null}},
"y":{"field":"v","type":"quantitative","scale":{"domain":[0,40],"nice":false,"zero":false},"axis":{"orient":"left","values":[0,2,4,6,8,10,12,14,16,18,20,22,24,26,28,30,32,34,36,38,40],"tickSize":{"condition":{"test":"datum.value % 10 === 0","value":12},"value":6},"labelExpr":"datum.value % 10 === 0 ? '' + datum.value : ''","labelPadding":18,"title":"ΔTS (°C)","titlePadding":18}},
"color":{"field":"s","type":"nominal","scale":{"domain":["Yr 331-350","Yr 231-250","Yr 181-200","Yr 131-150: 4xCO₂","Yr 61-80: 2xCO₂"],"range":["#2163a8","#1f86c4","#1aa8d8","#14c4e4","#3cdcdc"]},"legend":null}
}},
{"data":{"values":[{}]},"mark":{"type":"rule","color":"black","strokeWidth":2.5},"encoding":{"y":{"datum":0,"axis":{"orient":"right","values":[0,2,4,6,8,10,12,14,16,18,20,22,24,26,28,30,32,34,36,38,40],"tickSize":{"condition":{"test":"datum.value % 10 === 0","value":12},"value":6},"labels":false,"title":null}}}}
]},
{"width":486,"height":485,"resolve":{"axis":{"y":"independent"}},
"layer":[
{"data":{"name":"bBot"},"mark":{"type":"line","strokeWidth":3.5},
"encoding":{
"x":{"field":"m","type":"quantitative","scale":{"domain":[0.5,12.5],"nice":false,"zero":false},"axis":{"orient":"bottom","values":[1,2,3,4,5,6,7,8,9,10,11,12],"labelExpr":"['J','F','M','A','M','J','J','A','S','O','N','D'][datum.value-1]","tickSize":12,"labelPadding":14,"labelFontSize":21,"title":null}},
"y":{"field":"v","type":"quantitative","scale":{"domain":[0,40],"nice":false,"zero":false},"axis":{"orient":"left","values":[0,2,4,6,8,10,12,14,16,18,20,22,24,26,28,30,32,34,36,38,40],"tickSize":{"condition":{"test":"datum.value % 10 === 0","value":12},"value":6},"labelExpr":"datum.value % 10 === 0 ? '' + datum.value : ''","labelPadding":18,"title":null}},
"color":{"field":"f","type":"nominal","scale":{"domain":[25,24,23,22,20],"range":["#2163a8","#1f86c4","#1aa8d8","#14c4e4","#3cdcdc"]},"legend":null}
}},
{"data":{"values":[{}]},"mark":{"type":"rule","color":"black","strokeWidth":2.5},"encoding":{"y":{"datum":0,"axis":{"orient":"right","values":[0,2,4,6,8,10,12,14,16,18,20,22,24,26,28,30,32,34,36,38,40],"tickSize":{"condition":{"test":"datum.value % 10 === 0","value":12},"value":6},"labels":false,"title":null}}}}
]},
{"width":486,"height":485,"resolve":{"axis":{"y":"independent"}},
"layer":[
{"data":{"name":"cBot"},"mark":{"type":"line","strokeWidth":3},
"encoding":{
"x":{"field":"m","type":"quantitative","scale":{"domain":[0.5,12.5],"nice":false,"zero":false},"axis":{"orient":"bottom","values":[1,2,3,4,5,6,7,8,9,10,11,12],"labelExpr":"['J','F','M','A','M','J','J','A','S','O','N','D'][datum.value-1]","tickSize":12,"labelPadding":14,"labelFontSize":21,"title":null}},
"y":{"field":"v","type":"quantitative","scale":{"domain":[0,40],"nice":false,"zero":false},"axis":{"orient":"left","values":[0,2,4,6,8,10,12,14,16,18,20,22,24,26,28,30,32,34,36,38,40],"tickSize":{"condition":{"test":"datum.value % 10 === 0","value":12},"value":6},"labelExpr":"datum.value % 10 === 0 ? '' + datum.value : ''","labelPadding":18,"title":null}},
"color":{"field":"f","type":"nominal","scale":{"domain":[60,40,25,24,23,22,20],"range":["#1b2a6b","#1f5a87","#2163a8","#1f86c4","#1aa8d8","#14c4e4","#3cdcdc"]},"legend":null}
}},
{"data":{"values":[{}]},"mark":{"type":"rule","color":"black","strokeWidth":2.5},"encoding":{"y":{"datum":0,"axis":{"orient":"right","values":[0,2,4,6,8,10,12,14,16,18,20,22,24,26,28,30,32,34,36,38,40],"tickSize":{"condition":{"test":"datum.value % 10 === 0","value":12},"value":6},"labels":false,"title":null}}}},
{"data":{"values":[{}]},"mark":{"type":"rect","filled":false,"color":"#8cc84b","strokeWidth":5},"encoding":{"x":{"datum":0.0},"x2":{"datum":4.55},"y":{"datum":16.0,"axis":null},"y2":{"datum":4.15}}},
{"data":{"values":[{}]},"mark":{"type":"rect","filled":false,"color":"#8cc84b","strokeWidth":5},"encoding":{"x":{"datum":8.39},"x2":{"datum":12.9},"y":{"datum":16.0,"axis":null},"y2":{"datum":4.15}}}
]}
],
"columns":3,
"spacing":{"row":56,"column":81},
"bounds":"flush",
"align":"all"
}
